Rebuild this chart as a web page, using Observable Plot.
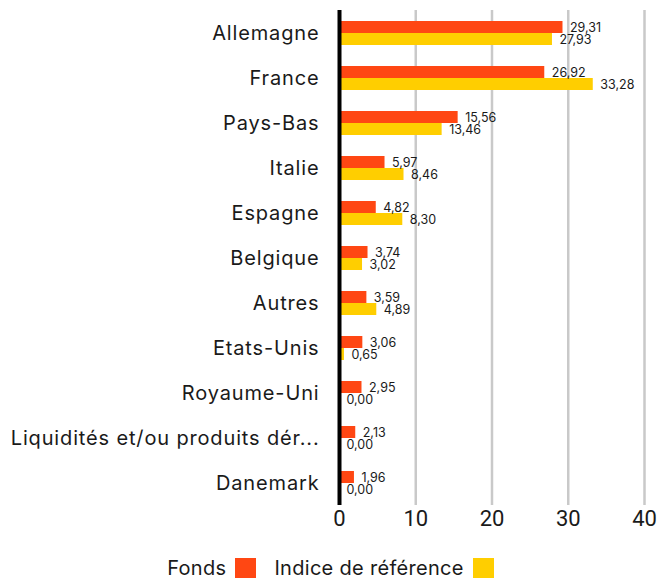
<!DOCTYPE html>
<html><head><meta charset="utf-8">
<script src="https://cdn.jsdelivr.net/npm/d3@7"></script>
<script src="https://cdn.jsdelivr.net/npm/@observablehq/plot@0.6"></script>
<style>
body{margin:0;background:#fff;font-family:Inter,sans-serif;color:#1a1a1a}
#legend{display:flex;justify-content:center;align-items:center;padding-top:16px;font-size:20px;letter-spacing:0.3px;padding-right:8px}
.item{display:flex;align-items:center;margin:0 9px}
.sw{display:inline-block;width:21px;height:20px;margin-left:9px}
</style></head><body>
<div id="chart"></div>
<div id="legend"></div>
<script>
const categories = ["Allemagne","France","Pays-Bas","Italie","Espagne","Belgique","Autres","Etats-Unis","Royaume-Uni","Liquidités et/ou produits dér...","Danemark"];
const fonds = [29.31,26.92,15.56,5.97,4.82,3.74,3.59,3.06,2.95,2.13,1.96];
const indice = [27.93,33.28,13.46,8.46,8.30,3.02,4.89,0.65,0.00,0.00,0.00];
const seriesNames = ["Fonds","Indice de référence"];
const seriesColors = ["#ff4713","#ffce00"];
const xTicks = [0,10,20,30,40];

const fmt = v => d3.format(".2f")(v).replace(".", ",");
const fondsData = categories.map((c,i)=>({cat:c, value:fonds[i]}));
const indiceData = categories.map((c,i)=>({cat:c, value:indice[i]}));

const chart = Plot.plot({
  width: 669,
  height: 540,
  marginLeft: 339,
  marginRight: 25,
  marginTop: 10,
  marginBottom: 35,
  style: {fontFamily: "Inter, sans-serif", color: "#1a1a1a", background: "#fff"},
  x: {domain: [0,40]},
  y: {domain: categories, paddingInner: 0.467, paddingOuter: 0.2335},
  marks: [
    Plot.ruleX(xTicks.filter(d=>d>0), {stroke:"#c9c9c9", strokeWidth:2.5, strokeOpacity:1}),
    Plot.barX(fondsData, {x:"value", y:"cat", fill:seriesColors[0], insetBottom:12}),
    Plot.barX(indiceData, {x:"value", y:"cat", fill:seriesColors[1], insetTop:12}),
    Plot.ruleX([0], {stroke:"#000", strokeWidth:4}),
    Plot.text(fondsData, {x:"value", y:"cat", text:d=>fmt(d.value), dx:7, dy:-6, textAnchor:"start", fontSize:12.5, fill:"#1a1a1a"}),
    Plot.text(indiceData, {x:"value", y:"cat", text:d=>fmt(d.value), dx:7, dy:6, textAnchor:"start", fontSize:12.5, fill:"#1a1a1a"}),
    Plot.axisY({tickSize:0, tickPadding:20, fontSize:20, label:null}),
    Plot.axisX({ticks:xTicks, tickSize:0, tickPadding:5, fontSize:22, label:null, tickFormat:d=>String(d), fontFamily:"Roboto, sans-serif"})
  ]
});
d3.select(chart).selectAll("g[aria-label='y-axis tick label'] text").style("letter-spacing","0.85px");
document.getElementById("chart").appendChild(chart);

const legend = document.getElementById("legend");
seriesNames.forEach((n,i)=>{
  const it = document.createElement("div");
  it.className = "item";
  it.innerHTML = `<span>${n}</span><span class="sw" style="background:${seriesColors[i]}"></span>`;
  legend.appendChild(it);
});
</script>
</body></html>
